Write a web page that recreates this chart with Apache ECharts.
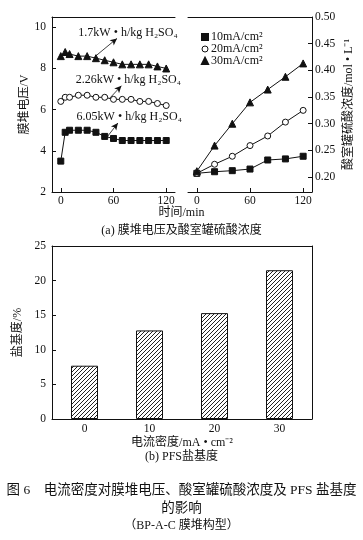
<!DOCTYPE html>
<html><head><meta charset="utf-8">
<script src="https://cdn.jsdelivr.net/npm/echarts@6/dist/echarts.min.js"></script>
<style>html,body{margin:0;padding:0;background:#fff}#c{width:363px;height:540px}</style>
</head><body><div id="c"></div>
<script>
// ---- data ----
const timeV = [0,5,10,20,30,40,50,60,70,80,90,100,110,120];
const volt17 = [8.6,8.8,8.7,8.6,8.6,8.5,8.4,8.3,8.2,8.2,8.2,8.2,8.1,8.0];
const volt226 = [6.4,6.6,6.6,6.7,6.7,6.6,6.6,6.5,6.5,6.5,6.4,6.4,6.3,6.2];
const volt605 = [3.5,4.9,5.0,5.0,5.0,4.9,4.7,4.6,4.5,4.5,4.5,4.5,4.5,4.5];
const timeC = [0,20,40,60,80,100,120];
const conc10 = [0.207,0.210,0.212,0.215,0.232,0.234,0.239];
const conc20 = [0.207,0.224,0.239,0.259,0.277,0.303,0.325];
const conc30 = [0.211,0.259,0.300,0.340,0.364,0.388,0.413];
const densCats = ['0','10','20','30'];
const basicity = [7.7,12.8,15.3,21.5];
const voltTicks = [2,4,6,8,10];
const concTicks = [0.20,0.25,0.30,0.35,0.40,0.45,0.50];
const timeTicks = [0,60,120];
const legendNames = ['10mA/cm²','20mA/cm²','30mA/cm²'];
const voltLabels = ['1.7kW • h/kg H₂SO₄','2.26kW • h/kg H₂SO₄','6.05kW • h/kg H₂SO₄'];

const FONT = '"Liberation Serif","Noto Sans CJK SC",serif';
const TXT = {fontFamily: FONT, color:'#111', fontSize: 12};
const TICK = {fontFamily: FONT, color:'#111', fontSize: 11.5};
const zip = (xs, ys) => xs.map((x,i)=>[x,ys[i]]);

// hatch pattern
const pc = document.createElement('canvas');
pc.width = 4; pc.height = 4;
const g = pc.getContext('2d');
g.fillStyle = '#fff'; g.fillRect(0,0,4,4);
g.strokeStyle = '#222'; g.lineWidth = 1;
g.beginPath(); g.moveTo(-1,5); g.lineTo(5,-1); g.moveTo(-1,1); g.lineTo(1,-1); g.moveTo(3,5); g.lineTo(5,3); g.stroke();

const axisLine = {show:true, onZero:false, lineStyle:{color:'#111', width:1}};
const lineSeries = (name, xi, yi, data, symbol, extra) => {
  const open = symbol === 'openCircle';
  return Object.assign({
    name, type:'line', xAxisIndex: xi, yAxisIndex: yi, data,
    symbol: open ? 'circle' : symbol, symbolSize: 6, color:'#111',
    lineStyle:{color:'#111', width:1},
    itemStyle:{color: open ? '#fff' : '#111', borderColor:'#111', borderWidth:1},
    emphasis:{disabled:true}, animation:false
  }, extra||{});
};

const arrow = (a, b) => ({
  silent:true, symbol:['none','arrow'], symbolSize:[5,7], label:{show:false},
  lineStyle:{color:'#111', width:0.8, type:'solid'},
  data:[[{coord:a},{coord:b}]], animation:false
});
const note = (pos, text) => ({
  silent:true, symbolSize:0, animation:false,
  label:{show:true, position:'right', distance:0, formatter:text, fontFamily:FONT, fontSize:12, color:'#111'},
  data:[{coord:pos}]
});

const chart = echarts.init(document.getElementById('c'));
chart.setOption({
  animation:false,
  grid:[
    {left:52, top:17, width:123, height:175},
    {left:188, top:17, width:124, height:175},
    {left:52, top:246, width:260, height:173}
  ],
  legend:{
    data:[
      {name:legendNames[0], icon:'rect', itemStyle:{color:'#111'}},
      {name:legendNames[1], icon:'circle', itemStyle:{color:'#fff', borderColor:'#111', borderWidth:1}},
      {name:legendNames[2], icon:'triangle', itemStyle:{color:'#111'}}
    ],
    orient:'vertical', left:196, top:26, itemWidth:6, itemHeight:6, itemGap:0,
    textStyle:{fontFamily:FONT, fontSize:12, lineHeight:10.5, color:'#111', padding:[0,0,0,-2]}
  },
  xAxis:[
    {gridIndex:0, type:'value', min:-10, max:130, axisLine, splitLine:{show:false},
     axisTick:{show:true, inside:true, length:4, customValues:timeTicks, lineStyle:{color:'#111'}},
     axisLabel:Object.assign({customValues:timeTicks, margin:3}, TICK)},
    {gridIndex:1, type:'value', min:-10, max:130, axisLine, splitLine:{show:false},
     axisTick:{show:true, inside:true, length:4, customValues:timeTicks, lineStyle:{color:'#111'}},
     axisLabel:Object.assign({customValues:timeTicks, margin:3}, TICK)},
    {gridIndex:2, type:'category', data:densCats, axisLine, axisTick:{show:false},
     axisLabel:Object.assign({margin:4}, TICK),
     name:'电流密度/mA • cm⁻²', nameLocation:'middle', nameGap:18, nameTextStyle:Object.assign({}, TXT)},
    // top borders
    {gridIndex:0, type:'value', position:'top', min:-10, max:130, axisLine, axisTick:{show:false}, axisLabel:{show:false}, splitLine:{show:false}},
    {gridIndex:1, type:'value', position:'top', min:-10, max:130, axisLine, axisTick:{show:false}, axisLabel:{show:false}, splitLine:{show:false}},
    {gridIndex:2, type:'value', position:'top', min:0, max:1, axisLine, axisTick:{show:false}, axisLabel:{show:false}, splitLine:{show:false}}
  ],
  yAxis:[
    {gridIndex:0, type:'value', min:2, max:10.5, axisLine, splitLine:{show:false},
     axisTick:{show:true, inside:true, length:4, customValues:voltTicks, lineStyle:{color:'#111'}},
     axisLabel:Object.assign({customValues:voltTicks, margin:6}, TICK),
     name:'膜堆电压/V', nameLocation:'middle', nameGap:21, nameRotate:90, nameTextStyle:Object.assign({}, TXT)},
    {gridIndex:1, type:'value', position:'right', min:0.172, max:0.5, axisLine, splitLine:{show:false},
     axisTick:{show:true, inside:true, length:4, customValues:concTicks, lineStyle:{color:'#111'}},
     axisLabel:Object.assign({customValues:concTicks, margin:3, formatter:v=>v.toFixed(2)}, TICK),
     name:'酸室罐硫酸浓度/mol • L⁻¹', nameLocation:'middle', nameGap:31, nameRotate:90, nameTextStyle:Object.assign({}, TXT)},
    {gridIndex:2, type:'value', min:0, max:25, interval:5, axisLine, splitLine:{show:false},
     axisTick:{show:true, inside:true, length:4, lineStyle:{color:'#111'}},
     axisLabel:Object.assign({margin:6}, TICK),
     name:'盐基度/%', nameLocation:'middle', nameGap:22, nameRotate:90, nameTextStyle:Object.assign({}, TXT)},
    {gridIndex:2, type:'value', position:'right', min:0, max:1, axisLine, axisTick:{show:false}, axisLabel:{show:false}, splitLine:{show:false}}
  ],
  series:[
    lineSeries('v17',0,0,zip(timeV,volt17),'triangle',{symbolSize:7,
      markLine:arrow([39,8.58],[64,9.46]), markPoint:note([20,9.75], voltLabels[0])}),
    lineSeries('v226',0,0,zip(timeV,volt226),'openCircle',{
      markLine:arrow([56,6.57],[69,7.16]), markPoint:note([17,7.45], voltLabels[1])}),
    lineSeries('v605',0,0,zip(timeV,volt605),'rect',{
      markLine:arrow([52.5,4.66],[65,5.35]), markPoint:note([18,5.64], voltLabels[2])}),
    lineSeries(legendNames[0],1,1,zip(timeC,conc10),'rect'),
    lineSeries(legendNames[1],1,1,zip(timeC,conc20),'openCircle'),
    lineSeries(legendNames[2],1,1,zip(timeC,conc30),'triangle',{symbolSize:7}),
    {type:'bar', xAxisIndex:2, yAxisIndex:2, data:basicity, barWidth:27,
     itemStyle:{color:{image:pc, repeat:'repeat'}, borderColor:'#111', borderWidth:1},
     emphasis:{disabled:true}, animation:false}
  ],
  graphic:[
    {type:'text', left:'center', top:207, style:{text:'时间/min', font:'12px '+FONT, fill:'#111'}},
    {type:'text', left:'center', top:225, style:{text:'(a) 膜堆电压及酸室罐硫酸浓度', font:'12px '+FONT, fill:'#111'}},
    {type:'text', left:'center', top:451, style:{text:'(b) PFS盐基度', font:'12px '+FONT, fill:'#111'}},
    {type:'text', left:'center', top:484, style:{text:'图 6　电流密度对膜堆电压、酸室罐硫酸浓度及 PFS 盐基度', font:'13.5px '+FONT, fill:'#111'}},
    {type:'text', left:'center', top:502, style:{text:'的影响', font:'13.5px '+FONT, fill:'#111'}},
    {type:'text', left:'center', top:520, style:{text:'（BP-A-C 膜堆构型）', font:'12px '+FONT, fill:'#111'}}
  ]
});
</script></body></html>
